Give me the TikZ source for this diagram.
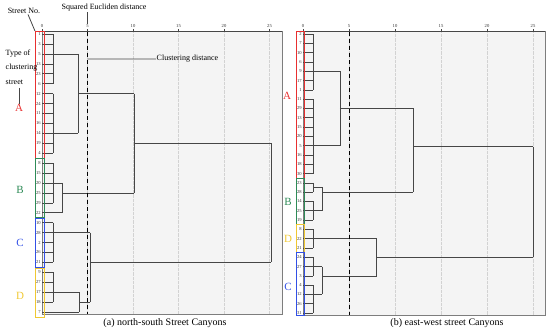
\documentclass[tikz,border=0pt]{standalone}
\usepackage{fontspec}
\setmainfont{Liberation Serif}
\usetikzlibrary{positioning}

\definecolor{panelbg}{RGB}{244,244,244}
\definecolor{framegray}{RGB}{125,125,125}
\definecolor{treegray}{RGB}{70,70,70}
\definecolor{grpA}{RGB}{232,48,48}
\definecolor{grpB}{RGB}{46,139,87}
\definecolor{grpC}{RGB}{50,80,230}
\definecolor{grpD}{RGB}{240,200,50}

\tikzset{
  leaflbl/.style={font=\fontsize{4.6}{5}\selectfont, anchor=east, inner sep=0.4pt, text=black!80},
  ticklbl/.style={font=\fontsize{4.6}{5}\selectfont, anchor=south, inner sep=0.5pt, text=black!80},
  tree/.style={draw=treegray, line width=0.55pt},
  gridln/.style={draw=gray!35, densely dotted, line width=0.3pt},
  cutline/.style={draw=black, line width=1pt, dash pattern=on 4pt off 3pt},
  grpbox/.style={line width=0.8pt},
  grpletter/.style={font=\fontsize{11}{11}\selectfont, inner sep=0.5pt},
  note/.style={font=\fontsize{8}{8}\selectfont, inner sep=0.5pt},
  caption/.style={font=\fontsize{10}{10}\selectfont, inner sep=0pt},
  pointer/.style={draw=treegray, line width=0.8pt},
}

\begin{document}
\begin{tikzpicture}[x=1pt, y=-1pt]
  \useasboundingbox (0,0) rectangle (550,335);

  % ---- (a) north-south: 29 leaves, x = distance, y = leaf index
  \begin{scope}[shift={(42,24.07)}, x=9.1pt, y=-9.93pt]
    \fill[panelbg] (0,0.7) rectangle (26.37,29.2);
    \foreach \d in {5,10,...,25} \draw[gridln] (\d,0.7) -- (\d,29.2);
    \draw[framegray, line width=0.6pt] (0,0.7) rectangle (26.37,29.2);
    \draw[treegray, line width=0.7pt] (0,0.7) -- (26.37,0.7);
    \foreach \d in {0,5,...,25} {
      \draw[treegray, line width=0.4pt] (\d,0.7) -- (\d,0.45);
      \node[ticklbl] (nst\d) at (\d,0.4) {\d};
    }
    \foreach \lbl [count=\i] in {1,3,5,13,23,6,12,24,11,16,14,19,4,8,15,20,25,29,22,10,28,2,26,21,9,27,17,18,7} {
      \node[leaflbl] (ns\i) at (-0.08,\i) {\lbl};
      \draw[tree] (0,\i) -- (1.2,\i);
    }
    % group A
    \draw[tree] (1.2,1) -- (1.2,6)  (1.2,3) -- (4.0,3);
    \draw[tree] (1.2,7) -- (1.2,13) (1.2,11) -- (4.0,11);
    \draw[tree] (4.0,3) -- (4.0,11) (4.0,7) -- (10.1,7);
    % group B
    \draw[tree] (1.2,14) -- (1.2,18) (1.2,16) -- (2.2,16);
    \draw[tree] (1.2,19) -- (2.2,19) (2.2,16) -- (2.2,19) (2.2,17) -- (10.1,17);
    \draw[tree] (10.1,7) -- (10.1,17) (10.1,12) -- (25.2,12);
    % group C
    \draw[tree] (1.2,20) -- (1.2,24) (1.2,21) -- (5.25,21);
    % group D
    \draw[tree] (1.2,25) -- (1.2,28) (1.2,27) -- (4.1,27);
    \draw[tree] (1.2,29) -- (4.1,29) (4.1,27) -- (4.1,29) (4.1,28) -- (5.25,28);
    \draw[tree] (5.25,21) -- (5.25,28) (5.25,24) -- (25.2,24);
    \draw[tree] (25.2,12) -- (25.2,24);
    % clustering distance
    \draw[cutline] (5,0.75) -- (5,29.2);
    \coordinate (nscut) at (5,3.52);
    % group boxes
    \draw[grpA, grpbox] (-0.77,0.7)  rectangle (0.22,13.5);
    \draw[grpB, grpbox] (-0.77,13.5) rectangle (0.22,19.5);
    \draw[grpC, grpbox] (-0.77,19.55) rectangle (0.22,24.55);
    \draw[grpD, grpbox] (-0.77,24.6) rectangle (0.22,29.5);
    \coordinate (nsbox) at (-0.77,0.7);
  \end{scope}

  % ---- (b) east-west: 31 leaves
  \begin{scope}[shift={(303,24.7)}, x=9.2pt, y=-9.3pt]
    \fill[panelbg] (0,0.68) rectangle (26.3,31.2);
    \foreach \d in {5,10,...,25} \draw[gridln] (\d,0.68) -- (\d,31.2);
    \draw[framegray, line width=0.6pt] (0,0.68) rectangle (26.3,31.2);
    \draw[treegray, line width=0.7pt] (0,0.68) -- (26.3,0.68);
    \foreach \d in {0,5,...,25} {
      \draw[treegray, line width=0.4pt] (\d,0.68) -- (\d,0.42);
      \node[ticklbl] (ewt\d) at (\d,0.38) {\d};
    }
    \foreach \lbl [count=\i] in {2,7,10,6,9,17,1,11,29,13,15,20,5,16,18,30,23,28,14,25,19,8,22,21,24,27,3,4,12,26,31} {
      \node[leaflbl] (ew\i) at (-0.08,\i) {\lbl};
      \draw[tree] (0,\i) -- (1.1,\i);
    }
    % group A
    \draw[tree] (1.1,1) -- (1.1,7)  (1.1,5) -- (4.0,5);
    \draw[tree] (1.1,8) -- (1.1,16) (1.1,13) -- (4.0,13);
    \draw[tree] (4.0,5) -- (4.0,13) (4.0,9) -- (12.0,9);
    % group B
    \draw[tree] (1.1,17) -- (1.1,18) (1.1,17.5) -- (2.1,17.5);
    \draw[tree] (1.1,19) -- (1.1,21) (1.1,20) -- (2.1,20);
    \draw[tree] (2.1,17.5) -- (2.1,20) (2.1,18) -- (12.0,18);
    \draw[tree] (12.0,9) -- (12.0,18) (12.0,13.1) -- (25.0,13.1);
    % group D
    \draw[tree] (1.1,22) -- (1.1,24) (1.1,23) -- (8.0,23);
    % group C
    \draw[tree] (1.1,25) -- (1.1,27) (1.1,26) -- (2.1,26);
    \draw[tree] (1.1,28) -- (1.1,31) (1.1,29) -- (2.1,29);
    \draw[tree] (2.1,26) -- (2.1,29) (2.1,27) -- (8.0,27);
    \draw[tree] (8.0,23) -- (8.0,27) (8.0,25) -- (25.0,25);
    \draw[tree] (25.0,13.1) -- (25.0,25);
    % clustering distance
    \draw[cutline] (5,0.75) -- (5,31.2);
    % group boxes
    \draw[grpA, grpbox] (-0.76,0.68) rectangle (0.11,16.5);
    \draw[grpB, grpbox] (-0.76,16.5) rectangle (0.11,21.5);
    \draw[grpD, grpbox] (-0.76,21.5) rectangle (0.11,24.5);
    \draw[grpC, grpbox] (-0.76,24.5) rectangle (0.11,31.3);
  \end{scope}

  % group letters
  \node[grpletter, text=grpA] (nsA) at (19,108) {A};
  \node[grpletter, text=grpB] (nsB) at (20,190) {B};
  \node[grpletter, text=grpC] (nsC) at (20,243) {C};
  \node[grpletter, text=grpD] (nsD) at (20,296) {D};
  \node[grpletter, text=grpA] (ewA) at (287,96) {A};
  \node[grpletter, text=grpB] (ewB) at (288,202) {B};
  \node[grpletter, text=grpD] (ewD) at (288,239) {D};
  \node[grpletter, text=grpC] (ewC) at (288,287) {C};

  % notes
  \node[note] (stno) at (24,11) {Street No.};
  \draw[pointer] ([xshift=4pt]stno.south) -- (nsbox);
  \node[note, anchor=west] (typeof) at (5,54) {Type of};
  \node[note, anchor=west] (clust) at (5,68) {clustering};
  \node[note, anchor=west] (strt) at (5,82) {street};
  \draw[pointer, line width=1pt] (strt.south -| nsA) ++(0,3) -- (nsA.north);
  \node[note] (sqd) at (104,8) {Squared Eucliden distance};
  \draw[pointer] (sqd.south -| nst5) -- (nst5.north);
  \node[note, anchor=west] (clusd) at (156,59) {Clustering distance};
  \draw[pointer] (nscut) -- (clusd.west);

  % captions
  \node[caption] (capa) at (165,323) {(a) north-south Street Canyons};
  \node[caption] (capb) at (447,323) {(b) east-west street Canyons};
\end{tikzpicture}
\end{document}
